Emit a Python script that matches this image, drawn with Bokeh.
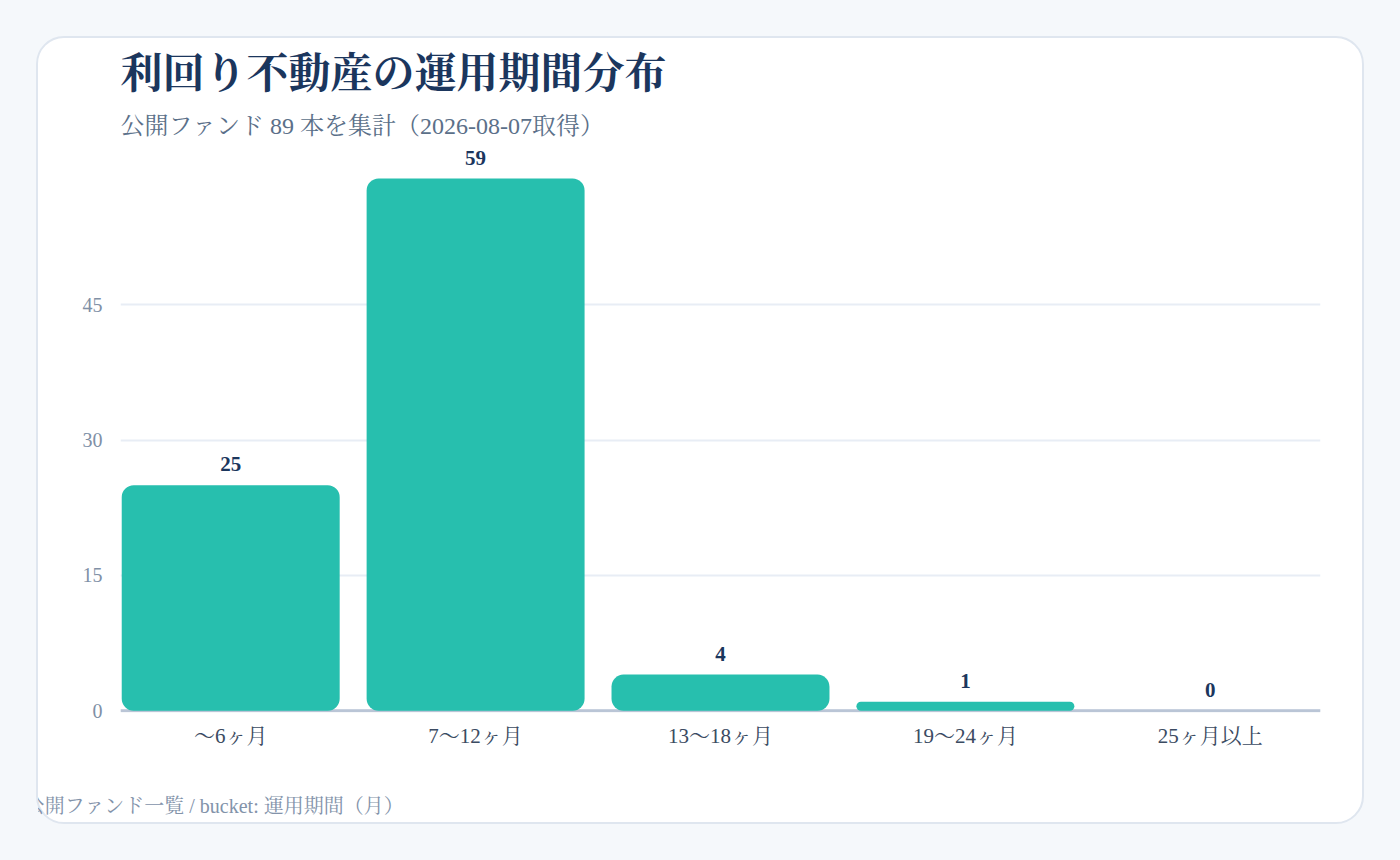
from bokeh.plotting import figure
from bokeh.models import Range1d, FixedTicker, Title, Span, ColumnDataSource
from bokeh.core.properties import value
from bokeh.embed import file_html
from bokeh.resources import INLINE

categories = ["〜6ヶ月", "7〜12ヶ月", "13〜18ヶ月", "19〜24ヶ月", "25ヶ月以上"]
counts = [25, 59, 4, 1, 0]
y_ticks = [0, 15, 30, 45]

title_text = "利回り不動産の運用期間分布"
subtitle_text = "公開ファンド 89 本を集計（2026-08-07取得）"
footer_text = "source: 利回り不動産 公開ファンド一覧 / bucket: 運用期間（月）"

FONT = "'Liberation Serif', 'Noto Serif CJK JP', serif"
BAR = "#27bfae"
NAVY = "#1b365d"

xs = list(range(len(categories)))
src = ColumnDataSource(dict(x=xs, top=counts, label=[str(c) for c in counts]))

p = figure(width=1328, height=788, output_backend="svg", toolbar_location=None,
           x_range=Range1d(-0.45, len(categories) - 0.55), y_range=Range1d(-0.2, 62.44),
           title=None, min_border_left=82, min_border_right=46, min_border_top=109,
           min_border_bottom=114)
p.margin = (36, 36, 36, 36)
p.border_fill_color = None
p.background_fill_color = None
p.outline_line_color = None
p.styles = {"background-color": "#ffffff", "border": "2px solid #dfe6ef",
            "border-radius": "28px", "box-sizing": "border-box"}

p.add_layout(Span(location=0, dimension="width", line_color="#bac5d6",
                  line_width=3, level="underlay"))

p.vbar(x="x", top="top", width=0.89, bottom=0, source=src, fill_color=BAR,
       line_color=None, border_radius=12)
p.text(x="x", y="top", text="label", source=src, text_align="center",
       text_baseline="middle", y_offset=-21, text_font=value(FONT),
       text_font_style="bold", text_font_size="21px", text_color=NAVY)

p.xaxis.ticker = FixedTicker(ticks=xs)
p.xaxis.major_label_overrides = {i: c for i, c in enumerate(categories)}
p.xaxis.major_label_text_font = FONT
p.xaxis.major_label_text_font_size = "21px"
p.xaxis.major_label_text_color = "#3b4b62"
p.xaxis.major_label_standoff = 5
p.xaxis.major_tick_line_color = None
p.xaxis.minor_tick_line_color = None
p.xaxis.axis_line_color = None
p.xaxis.axis_label = footer_text
p.xaxis.axis_label_align = "start"
p.xaxis.axis_label_text_align = "left"
p.xaxis.axis_label_standoff = 44
p.xaxis.axis_label_text_font = FONT
p.xaxis.axis_label_text_font_size = "20px"
p.xaxis.axis_label_text_font_style = "normal"
p.xaxis.axis_label_text_color = "#8393aa"

p.yaxis.ticker = FixedTicker(ticks=y_ticks)
p.yaxis.major_label_text_font = FONT
p.yaxis.major_label_text_font_size = "20px"
p.yaxis.major_label_text_color = "#8090a6"
p.yaxis.major_label_standoff = 12
p.yaxis.major_tick_line_color = None
p.yaxis.minor_tick_line_color = None
p.yaxis.axis_line_color = None

p.xgrid.grid_line_color = None
p.ygrid.grid_line_color = "#e8edf5"
p.ygrid.grid_line_width = 2

p.add_layout(Title(text=subtitle_text, align="left", text_font=FONT,
                   text_font_size="24px", text_font_style="normal",
                   text_color="#5b7089", standoff=18), "above")
p.add_layout(Title(text=title_text, align="left", text_font=FONT,
                   text_font_size="42px", text_font_style="bold",
                   text_color=NAVY, standoff=9), "above")

html = file_html(p, INLINE)
html = html.replace("</head>", "<style>html, body { background-color: #f5f8fb; }</style>\n</head>", 1)
open("out.html", "w").write(html)
